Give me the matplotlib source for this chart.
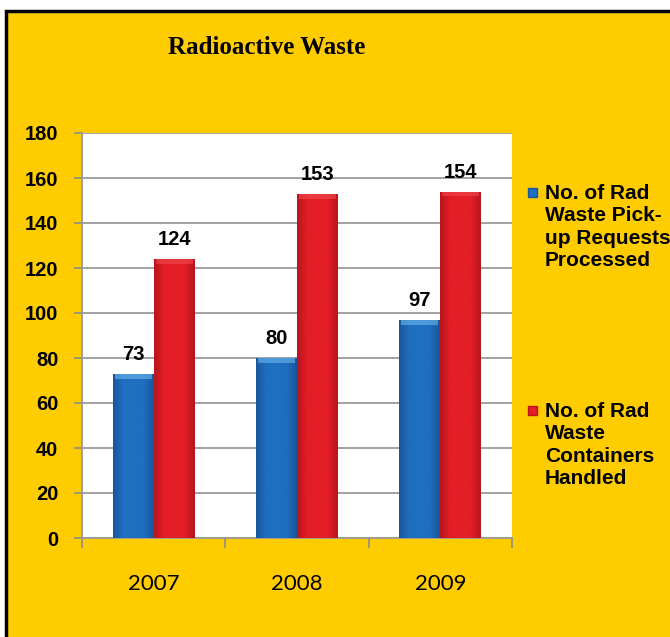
import numpy as np
import matplotlib.pyplot as plt
from matplotlib.patches import Rectangle
from matplotlib.colors import LinearSegmentedColormap

years = ['2007', '2008', '2009']
series_names = ['No. of Rad\nWaste Pick-\nup Requests\nProcessed',
                'No. of Rad\nWaste\nContainers\nHandled']
pickup_requests = [73, 80, 97]
containers_handled = [124, 153, 154]
y_ticks = [0, 20, 40, 60, 80, 100, 120, 140, 160, 180]

YELLOW = '#FFCC00'
BLUE = '#1F6FC0'
RED = '#E41E26'

fig = plt.figure(figsize=(6.7, 6.37), dpi=100)
fig.patch.set_facecolor('white')

# yellow panel with black frame (left/top edges visible)
frame = Rectangle((6 / 670, -0.05), 1.1, 1.05 - 11 / 637, transform=fig.transFigure,
                  facecolor=YELLOW, edgecolor='black', linewidth=2.5, zorder=-10)
fig.add_artist(frame)

ax = fig.add_axes([82 / 670, 1 - 538 / 637, 430 / 670, 405 / 637])
ax.set_facecolor('white')

x = np.arange(len(years))
w = 0.286


def shade_bars(bars, dark, mid, light):
    # horizontal shading across the bar plus a light rim at the top
    cmap = LinearSegmentedColormap.from_list('s', [dark, mid, mid, mid, dark])
    for b in bars:
        x0, y0 = b.get_x(), b.get_y()
        bw, bh = b.get_width(), b.get_height()
        grad = np.linspace(0, 1, 64).reshape(1, -1)
        im = ax.imshow(grad, cmap=cmap, aspect='auto', extent=[x0, x0 + bw, y0, y0 + bh],
                       zorder=3, interpolation='bicubic')
        im.set_clip_path(b)
        top = Rectangle((x0 + bw * 0.05, y0 + bh - 2.2), bw * 0.9, 2.2,
                        facecolor=light, edgecolor='none', alpha=0.6, zorder=4)
        ax.add_patch(top)


b1 = ax.bar(x - w / 2, pickup_requests, w, color=BLUE, edgecolor='none', zorder=2)
b2 = ax.bar(x + w / 2, containers_handled, w, color=RED, edgecolor='none', zorder=2)
shade_bars(b1, '#18579C', BLUE, '#6BB8EC')
shade_bars(b2, '#B8151C', RED, '#F04A50')

ax.bar_label(b1, padding=7, fontsize=14.5, fontweight='bold', family='Liberation Sans')
ax.bar_label(b2, padding=7, fontsize=14.5, fontweight='bold', family='Liberation Sans')

ax.set_xlim(-0.5, 2.5)
ax.set_ylim(0, 180)
ax.set_yticks(y_ticks)
ax.set_yticklabels([str(v) for v in y_ticks], fontsize=14.5, fontweight='bold',
                   family='Liberation Sans')
ax.tick_params(axis='y', length=6, width=1.2, color='#8C8C8C', pad=11)

ax.set_xticks([-0.5, 0.5, 1.5, 2.5])
ax.set_xticklabels([])
ax.tick_params(axis='x', which='major', length=7, width=1.2, color='#8C8C8C')
ax.set_xticks(x, minor=True)
ax.set_xticklabels(years, minor=True, fontsize=16, family='Lato')
ax.tick_params(axis='x', which='minor', length=0, pad=26)

ax.grid(axis='y', color='#9A9A9A', linewidth=1.3, zorder=0)
ax.set_axisbelow(True)
for s in ['top', 'right']:
    ax.spines[s].set_visible(False)
for s in ['left', 'bottom']:
    ax.spines[s].set_color('#9A9A9A')
    ax.spines[s].set_linewidth(1.3)

fig.text(267 / 670, 1 - 48 / 637, 'Radioactive Waste', ha='center', va='center',
         fontsize=18, fontweight='bold', family='Liberation Serif')

# legend drawn by hand to match the tall, widely spaced entries
for name, col, dark, ytop in [(series_names[0], BLUE, '#18579C', 184),
                              (series_names[1], RED, '#B8151C', 402)]:
    fig.add_artist(Rectangle((528 / 670, 1 - (ytop + 13) / 637), 9 / 670, 9 / 637,
                             transform=fig.transFigure, facecolor=col,
                             edgecolor=dark, linewidth=1))
    fig.text(545 / 670, 1 - ytop / 637, name, ha='left', va='top', fontsize=15,
             fontweight='bold', family='Liberation Sans', linespacing=1.22)

fig.savefig('out.png', dpi=100, facecolor=fig.get_facecolor())
